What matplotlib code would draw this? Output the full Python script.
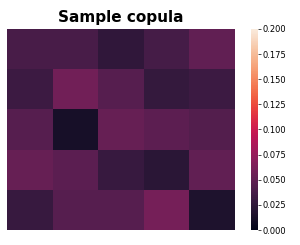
import matplotlib
matplotlib.use("Agg")
import matplotlib.pyplot as plt
import numpy as np
import seaborn as sns

# estimated cell values, rows top to bottom
row0 = [0.038, 0.038, 0.025, 0.036, 0.050]
row1 = [0.032, 0.058, 0.045, 0.028, 0.032]
row2 = [0.045, 0.012, 0.053, 0.048, 0.043]
row3 = [0.053, 0.047, 0.029, 0.022, 0.050]
row4 = [0.029, 0.045, 0.045, 0.060, 0.016]
vmin, vmax = 0.0, 0.2

data = np.array([row0, row1, row2, row3, row4])

fig = plt.figure(figsize=(3.0, 2.45), dpi=100)
ax = fig.add_axes([0.023, 0.061, 0.76, 0.821])
cax = fig.add_axes([0.837, 0.061, 0.023, 0.821])

sns.heatmap(data, ax=ax, cbar_ax=cax, cmap="rocket", vmin=vmin, vmax=vmax,
            xticklabels=False, yticklabels=False)
ax.set_title("Sample copula", fontsize=11, fontweight="bold", pad=5)
cax.set_yticks([0.0, 0.025, 0.05, 0.075, 0.1, 0.125, 0.15, 0.175, 0.2])
cax.set_yticklabels(["0.000", "0.025", "0.050", "0.075", "0.100",
                     "0.125", "0.150", "0.175", "0.200"])
cax.tick_params(labelsize=6, length=2, width=0.5, pad=1)

fig.savefig("out.png", dpi=100)
